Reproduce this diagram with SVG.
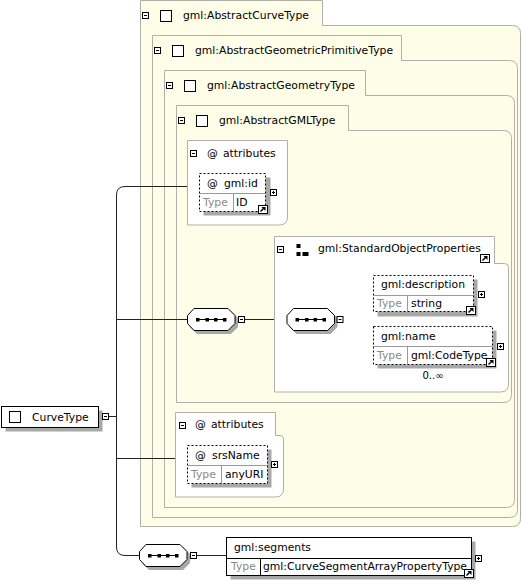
<svg xmlns="http://www.w3.org/2000/svg" width="522" height="581" viewBox="0 0 522 581">
<style>
text{font-family:"DejaVu Sans","Liberation Sans",sans-serif;font-size:10.8px;fill:#000}
.t{fill:#8a8a8a}
.box{fill:#fefee8;stroke:#b0b0a8;stroke-width:1}
.wbox{fill:#fff;stroke:#b0b0a8;stroke-width:1}
.sh{fill:#a8a8a8}
.el{fill:#fff;stroke:#000;stroke-width:1}
.dash{fill:#fff;stroke:#000;stroke-width:1;stroke-dasharray:2,2}
.div{stroke:#999;stroke-width:1}
.divb{stroke:#000;stroke-width:1}
.con{fill:none;stroke:#222;stroke-width:1}
.dot{fill:none;stroke:#222;stroke-width:1;stroke-dasharray:2,2}
</style>
<defs>
<g id="minus"><rect x="0.5" y="0.5" width="6" height="6" fill="#fff" stroke="#000"/><line x1="2" y1="3.5" x2="5" y2="3.5" stroke="#000"/></g>
<g id="plus"><rect x="0.5" y="0.5" width="6" height="6" fill="#fff" stroke="#000"/><line x1="2" y1="3.5" x2="5" y2="3.5" stroke="#000"/><line x1="3.5" y1="2" x2="3.5" y2="5" stroke="#000"/></g>
<g id="chk"><rect x="0.5" y="0.5" width="11" height="11" fill="#fff" stroke="#000"/></g>
<g id="lnk"><rect x="0.5" y="0.5" width="9" height="8" fill="#fff" stroke="#000"/><path d="M2.5,6.5 L6,3" stroke="#000" stroke-width="1.5"/><path d="M3.5,2 H7.5 V6 Z" fill="#000"/></g>
<g id="seq"><polygon points="10,3 44,3 51,10 51,19 44,26 10,26 3,19 3,10" class="sh"/><polygon points="7,0.5 41,0.5 48,7.5 48,15.5 41,22.5 7,22.5 0.5,15.5 0.5,7.5" fill="#fff" stroke="#000"/><line x1="10" y1="11.5" x2="39" y2="11.5" stroke="#000"/><rect x="9" y="10" width="3.5" height="3.5" fill="#000"/><rect x="18.5" y="10" width="3.5" height="3.5" fill="#000"/><rect x="27" y="10" width="3.5" height="3.5" fill="#000"/><rect x="36" y="10" width="3.5" height="3.5" fill="#000"/></g>
</defs>

<g id="AbstractCurveType">
<path class="box" d="M140.5,0.5 H322.5 V25.5 H512.5 Q520.5,25.5 520.5,33.5 V518.5 Q520.5,526.5 512.5,526.5 H140.5 Z"/>
<use href="#minus" x="142" y="12"/><use href="#chk" x="160" y="10"/>
<text x="183" y="19">gml:AbstractCurveType</text>
</g>
<g id="AbstractGeometricPrimitiveType">
<path class="box" d="M152.5,35.5 H401.5 V60.5 H509.5 Q517.5,60.5 517.5,68.5 V509.5 Q517.5,517.5 509.5,517.5 H152.5 Z"/>
<use href="#minus" x="154" y="47"/><use href="#chk" x="172" y="45"/>
<text x="195" y="54">gml:AbstractGeometricPrimitiveType</text>
</g>
<g id="AbstractGeometryType">
<path class="box" d="M164.5,70.5 H365.5 V95.5 H506.5 Q514.5,95.5 514.5,103.5 V499.5 Q514.5,507.5 506.5,507.5 H164.5 Z"/>
<use href="#minus" x="166" y="82"/><use href="#chk" x="184" y="80"/>
<text x="207" y="89">gml:AbstractGeometryType</text>
</g>
<g id="AbstractGMLType">
<path class="box" d="M176.5,105.5 H348.5 V130.5 H503.5 Q511.5,130.5 511.5,138.5 V394.5 Q511.5,402.5 503.5,402.5 H176.5 Z"/>
<use href="#minus" x="178" y="117"/><use href="#chk" x="196" y="115"/>
<text x="219" y="124">gml:AbstractGMLType</text>
</g>

<g id="connectors">
<path class="con" d="M109,416.5 H116.5"/>
<path class="con" d="M187,186.5 H125 Q116.5,186.5 116.5,195 V547 Q116.5,555.5 125,555.5 H139"/>
<path class="con" d="M116.5,319.5 H187"/>
<path class="con" d="M116.5,458.5 H175"/>
<path class="con" d="M245,319.5 H287"/>
<path class="dot" d="M343.5,319.5 H350.5"/>
<path class="dot" d="M373,293.5 H358 Q350.5,293.5 350.5,301 V338 Q350.5,345.5 358,345.5 H373"/>
<path class="con" d="M197,555.5 H226.5"/>
</g>

<g id="attributes1">
<path class="wbox" d="M187.5,140.5 H287.5 V217 Q287.5,225 279.5,225 H187.5 Z"/>
<use href="#minus" x="190" y="150"/>
<text x="207" y="157">@</text><text x="223" y="157">attributes</text>
</g>
<g id="gml_id">
<rect class="sh" x="203.5" y="177.5" width="67" height="38"/>
<rect class="dash" x="199.5" y="173.5" width="66" height="38"/>
<line class="div" x1="200" y1="193.5" x2="265" y2="193.5"/>
<line class="div" x1="233.5" y1="194" x2="233.5" y2="211"/>
<text x="207" y="187">@</text><text x="224" y="187">gml:id</text>
<text class="t" x="203" y="206">Type</text><text x="236" y="206">ID</text>
<use href="#plus" x="270" y="189"/>
<use href="#lnk" x="258" y="205"/>
</g>

<g id="seq1"><use href="#seq" x="187" y="308"/><use href="#minus" x="238" y="316"/></g>

<g id="StandardObjectProperties">
<path class="wbox" d="M274.5,236.5 H494.5 V263.5 H504.5 Q508.5,263.5 508.5,267.5 V384 Q508.5,392 500.5,392 H274.5 Z"/>
<use href="#minus" x="277" y="246"/>
<rect x="296.5" y="244" width="4" height="4" fill="#000"/>
<rect x="296.5" y="252" width="4" height="4" fill="#000"/>
<rect x="302.5" y="252" width="6" height="4" fill="#000"/>
<text x="318" y="252">gml:StandardObjectProperties</text>
<use href="#lnk" x="480" y="254"/>
</g>

<g id="seq2"><use href="#seq" x="286.5" y="308"/><use href="#minus" x="336.5" y="316"/></g>

<g id="gml_description">
<rect class="sh" x="377.5" y="279.5" width="100" height="37"/>
<rect class="dash" x="373.5" y="275.5" width="100" height="36"/>
<line class="div" x1="374" y1="295.5" x2="473" y2="295.5"/>
<line class="div" x1="407.5" y1="296" x2="407.5" y2="311"/>
<text x="381" y="288">gml:description</text>
<text class="t" x="377" y="307">Type</text><text x="411" y="307">string</text>
<use href="#plus" x="478" y="291"/>
<use href="#lnk" x="466" y="306"/>
</g>

<g id="gml_name">
<rect class="sh" x="377.5" y="330.5" width="119" height="38"/>
<rect class="dash" x="373.5" y="326.5" width="119" height="38"/>
<line class="div" x1="374" y1="346.5" x2="492" y2="346.5"/>
<line class="div" x1="407.5" y1="347" x2="407.5" y2="364"/>
<text x="381" y="340">gml:name</text>
<text class="t" x="377" y="359">Type</text><text x="411" y="359">gml:CodeType</text>
<use href="#plus" x="497" y="343"/>
<use href="#lnk" x="486" y="358"/>
<text x="433" y="379" text-anchor="middle" style="font-size:10px">0..∞</text>
</g>

<g id="attributes2">
<path class="wbox" d="M175.5,412.5 H275.5 V435.5 H280 Q283.5,435.5 283.5,439 V489 Q283.5,497 275.5,497 H175.5 Z"/>
<use href="#minus" x="179" y="422"/>
<text x="195" y="428">@</text><text x="211" y="428">attributes</text>
</g>
<g id="srsName">
<rect class="sh" x="191.5" y="449.5" width="80" height="38"/>
<rect class="dash" x="187.5" y="445.5" width="80" height="38"/>
<line class="div" x1="188" y1="465.5" x2="267" y2="465.5"/>
<line class="div" x1="221.5" y1="466" x2="221.5" y2="483"/>
<text x="195" y="459">@</text><text x="212" y="459">srsName</text>
<text class="t" x="191" y="478">Type</text><text x="225" y="478">anyURI</text>
<use href="#plus" x="271" y="461"/>
</g>

<g id="CurveType">
<rect class="sh" x="5.5" y="410.5" width="97" height="21"/>
<rect class="el" x="1.5" y="406.5" width="97" height="21"/>
<use href="#chk" x="9" y="411"/>
<text x="32" y="421">CurveType</text>
<use href="#minus" x="102" y="413"/>
</g>

<g id="seq3"><use href="#seq" x="139" y="544"/><use href="#minus" x="190" y="552"/></g>

<g id="gml_segments">
<rect class="sh" x="230.5" y="541.5" width="245" height="38"/>
<rect class="el" x="226.5" y="537.5" width="245" height="38"/>
<line class="divb" x1="227" y1="558.5" x2="471" y2="558.5"/>
<line class="divb" x1="260.5" y1="559" x2="260.5" y2="575"/>
<text x="234" y="551">gml:segments</text>
<text class="t" x="231" y="570">Type</text><text x="263" y="570">gml:CurveSegmentArrayPropertyType</text>
<use href="#plus" x="475" y="555"/>
<use href="#lnk" x="464" y="569"/>
</g>
</svg>
